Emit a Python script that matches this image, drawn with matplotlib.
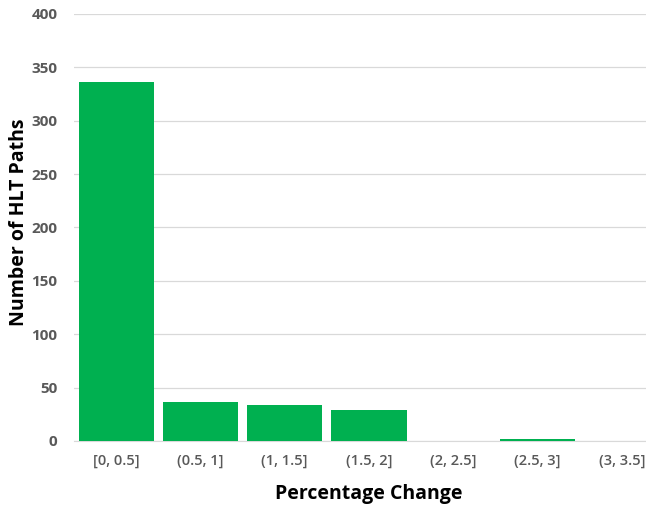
import matplotlib
matplotlib.use("Agg")
import matplotlib.pyplot as plt

categories = ["[0, 0.5]", "(0.5, 1]", "(1, 1.5]", "(1.5, 2]", "(2, 2.5]", "(2.5, 3]", "(3, 3.5]"]
counts = [336, 37, 34, 29, 0, 2, 0]
yticks = [0, 50, 100, 150, 200, 250, 300, 350, 400]

plt.rcParams['font.family'] = ['Open Sans', 'DejaVu Sans']

fig = plt.figure(figsize=(6.46, 5.05), dpi=100)
ax = fig.add_axes([74 / 646, 1 - 441 / 505, 590 / 646, 427 / 505])
x = range(len(categories))
ax.bar(x, counts, width=0.89, color="#00B050", zorder=3)
ax.set_xlim(-0.5, len(categories) - 0.5)
ax.set_ylim(0, 400)
ax.set_yticks(yticks)
ax.set_xticks(list(x))
ax.set_xticklabels(categories, fontsize=10.5, color="#595959", fontweight="semibold")
for lbl in ax.get_yticklabels():
    lbl.set_fontsize(11)
    lbl.set_color("#595959")
    lbl.set_fontweight("bold")
ax.grid(axis="y", color="#D9D9D9", linewidth=0.9, zorder=0)
for s in ["top", "right", "left"]:
    ax.spines[s].set_visible(False)
ax.spines["bottom"].set_color("#D9D9D9")
ax.tick_params(axis="y", length=0, pad=12)
ax.tick_params(axis="x", length=0, pad=9)
ax.set_xlabel("Percentage Change", fontsize=14, fontweight="bold", labelpad=12)
fig.text(19 / 646, 1 - 222 / 505, "Number of HLT Paths", fontsize=14, fontweight="bold",
         rotation=90, ha="center", va="center")
fig.savefig("out.png", dpi=100)
